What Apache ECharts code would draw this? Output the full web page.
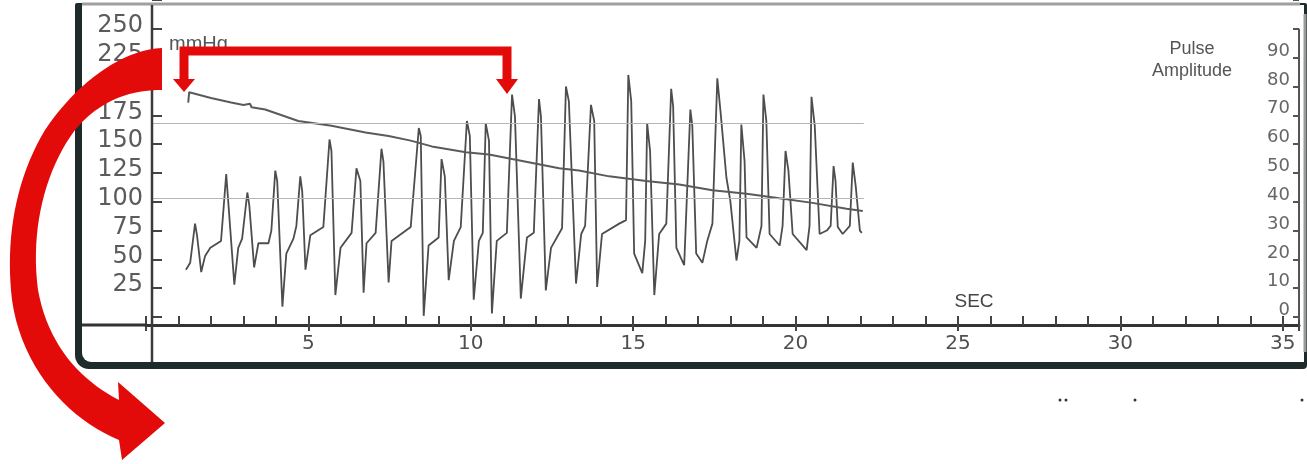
<!DOCTYPE html>
<html>
<head>
<meta charset="utf-8">
<script src="https://cdn.jsdelivr.net/npm/echarts@6/dist/echarts.min.js"></script>
<style>
html,body{margin:0;padding:0;background:#fff;}
#c{width:1307px;height:464px;}
</style>
</head>
<body>
<div id="c"></div>
<script>
// ---- tick labels ----
const xTickLabels = [5, 10, 15, 20, 25, 30, 35];
const leftTickLabels = [25, 50, 75, 100, 125, 150, 175, 200, 225, 250];
const rightTickLabels = [0, 10, 20, 30, 40, 50, 60, 70, 80, 90];

// ---- oscillation (pulse) trace: time in s, pressure in mmHg ----
const pulseTime = [1.23,1.36,1.51,1.57,1.70,1.82,1.98,2.31,2.47,2.53,2.72,2.84,2.96,3.12,3.18,3.33,3.46,3.77,3.86,3.98,
4.04,4.20,4.32,4.54,4.63,4.75,4.81,4.91,5.06,5.46,5.65,5.71,5.83,5.99,6.33,6.48,6.60,6.70,6.79,7.07,
7.25,7.31,7.47,7.56,8.15,8.40,8.46,8.55,8.70,9.01,9.10,9.20,9.32,9.48,9.69,9.88,9.97,10.09,10.25,10.37,
10.46,10.56,10.65,10.80,11.11,11.27,11.36,11.54,11.73,11.94,12.10,12.16,12.31,12.47,12.81,12.93,13.02,13.24,13.40,13.52,
13.70,13.80,13.89,14.04,14.57,14.78,14.85,14.94,15.03,15.28,15.37,15.43,15.52,15.65,15.80,16.02,16.17,16.23,16.33,16.57,
16.76,16.82,16.94,17.13,17.28,17.44,17.59,17.69,17.87,17.99,18.18,18.27,18.33,18.43,18.49,18.80,18.95,19.01,19.10,19.20,
19.51,19.60,19.69,19.78,19.91,20.34,20.43,20.49,20.59,20.74,20.96,21.08,21.17,21.23,21.30,21.45,21.67,21.76,21.85,21.98,22.04];
const pulseMmHg = [41,47,81,71,39,53,60,66,124,101,28,60,68,108,97,43,64,64,75,127,
118,9,55,68,79,122,109,41,71,78,154,144,19,60,73,129,118,21,64,73,
146,135,30,66,78,164,157,1,62,69,137,122,32,66,78,170,157,15,66,73,
168,153,3,66,73,193,174,16,69,73,189,174,23,60,77,200,187,29,72,79,
184,170,26,72,81,84,210,187,55,38,66,168,144,19,72,81,198,183,60,45,
180,166,55,47,66,81,207,178,121,101,49,66,167,135,69,60,79,193,170,72,
62,79,144,127,72,58,79,191,166,72,75,79,131,118,78,72,79,134,114,75,73];

// ---- cuff pressure (deflation) curve ----
const cuffTime = [1.30,1.33,1.39,2.0,2.62,3.0,3.2,3.25,3.67,4.69,5.71,6.76,7.47,8.15,8.8,9.85,10.56,11.27,12.72,13.33,14.26,15.4,16.42,17.44,18.49,19.5,20.52,21.57,22.07];
const cuffMmHg = [186,195,194,190,186,184,185,182,180,170,166,160,157,153,148,143,141,137,129,127,122,118,115,110,107,103,99,94,92];

// ---- horizontal reference lines (mmHg) ----
const refLevels = [168, 103];
const refEndTime = 22.1;

const pulseData = pulseTime.map((t, i) => [t, pulseMmHg[i]]);
const cuffData = cuffTime.map((t, i) => [t, cuffMmHg[i]]);

const chart = echarts.init(document.getElementById('c'), null, {renderer: 'canvas'});

const option = {
  backgroundColor: '#ffffff',
  animation: false,
  grid: {left: 146, right: 8, top: -2, bottom: 147, containLabel: false},
  xAxis: [{
    type: 'value', min: 0, max: 35.5, interval: 1, position: 'bottom', offset: 8,
    axisLine: {show: true, onZero: false, lineStyle: {color: '#333', width: 3}},
    axisTick: {show: true, inside: true, length: 9, lineStyle: {color: '#444', width: 2}},
    axisLabel: {
      formatter: v => xTickLabels.includes(v) ? String(v) : '',
      color: '#4f4f4f', fontSize: 20, fontFamily: 'DejaVu Sans', margin: 9
    },
    splitLine: {show: false}
  }, {
    type: 'value', min: 0, max: 35.5, interval: 5, position: 'bottom', offset: 8,
    axisLine: {show: false, onZero: false},
    axisTick: {show: true, inside: false, length: 6, lineStyle: {color: '#444', width: 2}},
    axisLabel: {show: false},
    splitLine: {show: false}
  }],
  yAxis: [{
    type: 'value', min: 0, max: 275, interval: 25, position: 'left', offset: -6,
    axisLine: {show: false, onZero: false},
    axisTick: {show: true, inside: true, length: 10, lineStyle: {color: '#444', width: 2}},
    axisLabel: {
      formatter: v => leftTickLabels.includes(v) ? String(v) : '',
      color: '#5b5b5b', fontSize: 24, fontFamily: 'DejaVu Sans', margin: 9,
      verticalAlign: 'bottom', lineHeight: 6
    },
    splitLine: {show: false}
  }, {
    type: 'value', min: 0, max: 110, interval: 10, position: 'right',
    axisLine: {show: false, onZero: false},
    axisTick: {show: true, inside: true, length: 6, lineStyle: {color: '#555', width: 2}},
    axisLabel: {
      inside: true,
      formatter: v => rightTickLabels.includes(v) ? String(v) : '',
      color: '#666', fontSize: 18, fontFamily: 'DejaVu Sans', margin: 9,
      verticalAlign: 'bottom', lineHeight: 13
    },
    splitLine: {show: false}
  }],
  series: [{
    name: 'Oscillation', type: 'line', xAxisIndex: 0, yAxisIndex: 0,
    data: pulseData, showSymbol: false, symbol: 'none',
    lineStyle: {color: '#4d4d4d', width: 1.8},
    z: 3,
    markLine: {
      silent: true, symbol: 'none', label: {show: false},
      lineStyle: {color: '#b5b5b5', width: 1, type: 'solid'},
      data: refLevels.map(v => [{coord: [0.2, v]}, {coord: [refEndTime, v]}])
    }
  }, {
    name: 'Cuff pressure', type: 'line', xAxisIndex: 0, yAxisIndex: 0,
    data: cuffData, showSymbol: false, symbol: 'none',
    lineStyle: {color: '#5a5a5a', width: 2},
    z: 4
  }]
};
chart.setOption(option);

// ---- decorative frame and red annotations ----
function cubic(p0, p1, p2, p3, n) {
  const pts = [];
  for (let i = 1; i <= n; i++) {
    const t = i / n, u = 1 - t;
    pts.push([
      u*u*u*p0[0] + 3*u*u*t*p1[0] + 3*u*t*t*p2[0] + t*t*t*p3[0],
      u*u*u*p0[1] + 3*u*u*t*p1[1] + 3*u*t*t*p2[1] + t*t*t*p3[1]
    ]);
  }
  return pts;
}
let arrowPts = [[162, 48]];
arrowPts = arrowPts.concat(cubic([162,48],[120,50],[75,85],[45,130],20));
arrowPts = arrowPts.concat(cubic([45,130],[15,180],[5,240],[12,300],20));
arrowPts = arrowPts.concat(cubic([12,300],[22,370],[70,420],[119,440],20));
arrowPts.push([122,460],[165,423],[118,382],[119,400]);
arrowPts = arrowPts.concat(cubic([119,400],[80,380],[48,345],[38,290],20));
arrowPts = arrowPts.concat(cubic([38,290],[30,230],[45,170],[75,130],20));
arrowPts = arrowPts.concat(cubic([75,130],[100,100],[130,90],[162,90],20));

const yTop = chart.convertToPixel({yAxisIndex: 1}, 100);
const yZero = chart.convertToPixel({yAxisIndex: 1}, 0);
const xAxisY = chart.convertToPixel({yAxisIndex: 0}, 0) + 8;
const red = '#e30a0a';
const dark = '#1f2a2a';

chart.setOption({
  graphic: [
    // frame: dark outer, white inner with rounded bottom-left corner
    {type: 'rect', z: -2, shape: {x: 75, y: 3, width: 1232, height: 366, r: [2, 2, 4, 14]}, style: {fill: dark}},
    {type: 'rect', z: -1, shape: {x: 82, y: 5, width: 1222, height: 357, r: [0, 0, 0, 9]}, style: {fill: '#ffffff'}},
    // top border (gray)
    {type: 'line', z: 50, shape: {x1: 82, y1: 4, x2: 1300, y2: 4}, style: {stroke: '#a0a0a0', lineWidth: 3}},
    // right border (gray)
    {type: 'line', z: 50, shape: {x1: 1305, y1: 14, x2: 1305, y2: 352}, style: {stroke: '#9a9a9a', lineWidth: 3}},
    // column divider (left of plot)
    {type: 'line', z: 50, shape: {x1: 152, y1: 5, x2: 152, y2: 362}, style: {stroke: '#3a3a3a', lineWidth: 2.5}},
    // extension of the time axis line into the label column
    {type: 'line', z: 50, shape: {x1: 82, y1: xAxisY, x2: 147, y2: xAxisY}, style: {stroke: '#333', lineWidth: 3}},
    // right axis line (0..100)
    {type: 'line', z: 50, shape: {x1: 1299, y1: yTop, x2: 1299, y2: yZero + 3}, style: {stroke: '#555', lineWidth: 2}},
    // texts
    {type: 'text', z: 50, x: 169, y: 44, style: {text: 'mmHg', fill: '#555', font: '20px "Liberation Sans", Arial, sans-serif', verticalAlign: 'middle'}},
    {type: 'text', z: 50, x: 1192, y: 38, style: {text: 'Pulse\nAmplitude', fill: '#555', font: '18px "Liberation Sans", Arial, sans-serif', align: 'center', verticalAlign: 'top', lineHeight: 22}},
    {type: 'text', z: 50, x: 974, y: 302, style: {text: 'SEC', fill: '#444', font: '19px "Liberation Sans", Arial, sans-serif', align: 'center', verticalAlign: 'middle'}},
    // red bracket
    {type: 'polyline', z: 100, shape: {points: [[184, 82], [184, 51], [507, 51], [507, 82]]},
      style: {stroke: red, lineWidth: 9, fill: null, lineJoin: 'miter'}},
    {type: 'polygon', z: 100, shape: {points: [[173, 79], [195, 79], [184, 92]]}, style: {fill: red}},
    {type: 'polygon', z: 100, shape: {points: [[496, 79], [518, 79], [507, 94]]}, style: {fill: red}},
    // big curved arrow
    {type: 'polygon', z: 100, shape: {points: arrowPts}, style: {fill: red}},
    // specks at bottom right
    {type: 'circle', z: 50, shape: {cx: 1060, cy: 400, r: 1.5}, style: {fill: '#334'}},
    {type: 'circle', z: 50, shape: {cx: 1066, cy: 400, r: 1.5}, style: {fill: '#334'}},
    {type: 'circle', z: 50, shape: {cx: 1135, cy: 400, r: 1.5}, style: {fill: '#334'}},
    {type: 'circle', z: 50, shape: {cx: 1302, cy: 400, r: 1.5}, style: {fill: '#334'}}
  ]
});
</script>
</body>
</html>
